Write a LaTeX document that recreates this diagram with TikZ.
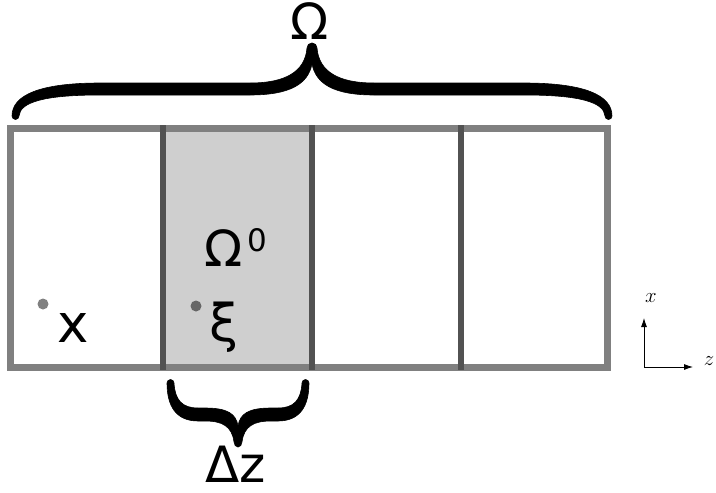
\documentclass[tikz,border=0pt]{standalone}
\usepackage{fontspec}
\setmainfont{DejaVu Sans}
\usetikzlibrary{arrows.meta}
\tikzset{
  bracefill/.style={fill=black,draw=black,line width=0.6pt,line join=round},
  big/.style={font=\fontsize{50}{50}\selectfont,inner sep=0pt,anchor=base},
  dotmark/.style={fill=#1,circle,inner sep=0pt,minimum size=11pt},
  axis/.style={-{Latex[length=9pt,width=6pt]},line width=0.8pt},
  axlabel/.style={font=\fontsize{22}{22}\selectfont,inner sep=0pt},
}
\begin{document}
\begin{tikzpicture}[x=1pt,y=-1pt]
\useasboundingbox (0,0) rectangle (716,493);
\fill[white] (0,0) rectangle (716,493);
% cells
\fill[black!19] (163,128) rectangle (312,367);
\draw[line width=7pt,draw=black!50] (10,128) rectangle (607,367);
\foreach \xx in {163,312,461}
  \draw[line width=6pt,draw=black!68] (\xx,125) -- (\xx,370);
% top brace (two mirrored halves)
\foreach \sx/\sh in {1/0,-1/624}{
  \begin{scope}[shift={(\sh,0)},xscale=\sx]
  \path[bracefill] (312,43) .. controls (309,43) and (307,45) .. (307,48)
    .. controls (305,72) and (285,83) .. (250,83) -- (100,83)
    .. controls (40,83) and (12,95) .. (12,116)
    arc[start angle=180,end angle=0,radius=3.5]
    .. controls (20,102) and (45,95) .. (100,95) -- (250,95)
    .. controls (290,95) and (308,84) .. (312,64) -- cycle;
  \end{scope}
}
\node[big] (om) at (310,39) {Ω};
% bottom brace (two mirrored halves)
\foreach \sx/\sh in {1/0,-1/476}{
  \begin{scope}[shift={(\sh,0)},xscale=\sx]
  \path[bracefill] (238,447) .. controls (236,447) and (234,445) .. (234,442)
    .. controls (232,426) and (222,421) .. (205,421) -- (198,421)
    .. controls (176,421) and (167,406) .. (167,383)
    arc[start angle=180,end angle=360,radius=3.5]
    .. controls (175,400) and (182,408) .. (198,408) -- (205,408)
    .. controls (228,408) and (236,414) .. (238,426) -- cycle;
  \end{scope}
}
\node[big] (dz) at (236,482) {Δz};
% labels in cells
\node[big,anchor=base west] (om0) at (204,266) {Ω\hspace{5pt}\raisebox{15pt}{\fontsize{31}{31}\selectfont 0}};
\node[dotmark=black!50] (dx) at (43,304) {};
\node[big,font=\fontsize{53}{53}\selectfont] (lx) at (73,342) {x};
\node[dotmark=black!60] (dxi) at (196,306) {};
\node[big,font=\fontsize{52}{52}\selectfont] (lxi) at (224,341) {ξ};
% axes
\coordinate (o) at (644,367);
\coordinate (ax) at (644,318);
\coordinate (az) at (693,367);
\draw[axis] (o) -- (ax);
\draw[axis] (o) -- (az);
\node[axlabel] (lxa) at (651,298) {$x$};
\node[axlabel] (lza) at (709,361) {$z$};
\end{tikzpicture}
\end{document}
